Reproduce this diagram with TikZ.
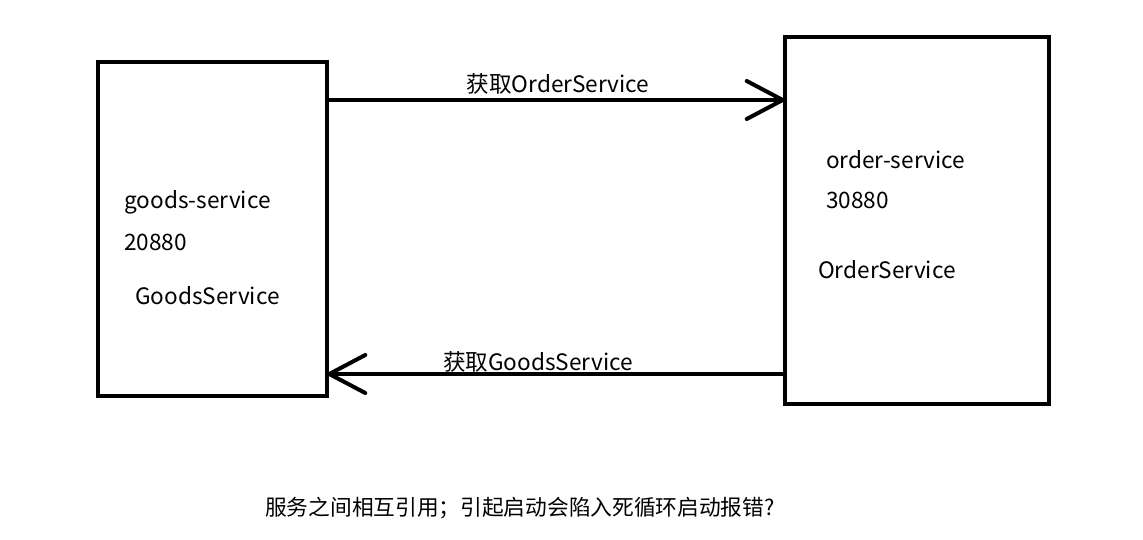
\documentclass[tikz,border=0pt]{standalone}
\usepackage{fontspec}
\setmainfont{Noto Sans CJK SC}
\usetikzlibrary{arrows.meta}
\begin{document}
\begin{tikzpicture}[x=1pt,y=-1pt,
  box/.style={draw=black,line width=4pt,minimum width=#1,inner sep=0pt},
  conn/.style={line width=4pt,shorten >=-4pt,-{Straight Barb[length=36pt,width=38pt,line width=4pt,line cap=round]}},
  lbl/.style={font=\fontsize{22.6}{26}\selectfont,inner sep=0pt,anchor=west},
  cjklbl/.style={font=\fontsize{21.7}{26}\selectfont,inner sep=0pt,anchor=west}]
\useasboundingbox (0,0) rectangle (1143,539);
\node[box=229pt,minimum height=334pt] (gs) at (212.5,229) {};
\node[box=264pt,minimum height=367pt] (os) at (917,220.5) {};
\draw[conn] (gs.east |- 0,100) -- (os.west |- 0,100);
\draw[conn] (os.west |- 0,374) -- (gs.east |- 0,374);
\node[lbl,anchor=center] (l1) at (558,84) {获取OrderService};
\node[lbl,anchor=center] (l2) at (538,362) {获取GoodsService};
\node[lbl] (g1) at (124,202) {goods-service};
\node[lbl] (g2) at (124,242) {20880};
\node[lbl] (g3) at (135,296) {GoodsService};
\node[lbl] (o1) at (826,160) {order-service};
\node[lbl] (o2) at (826,200) {30880};
\node[lbl] (o3) at (818,270) {OrderService};
\node[cjklbl] (b) at (265,508) {服务之间相互引用；引起启动会陷入死循环启动报错?};
\end{tikzpicture}
\end{document}
